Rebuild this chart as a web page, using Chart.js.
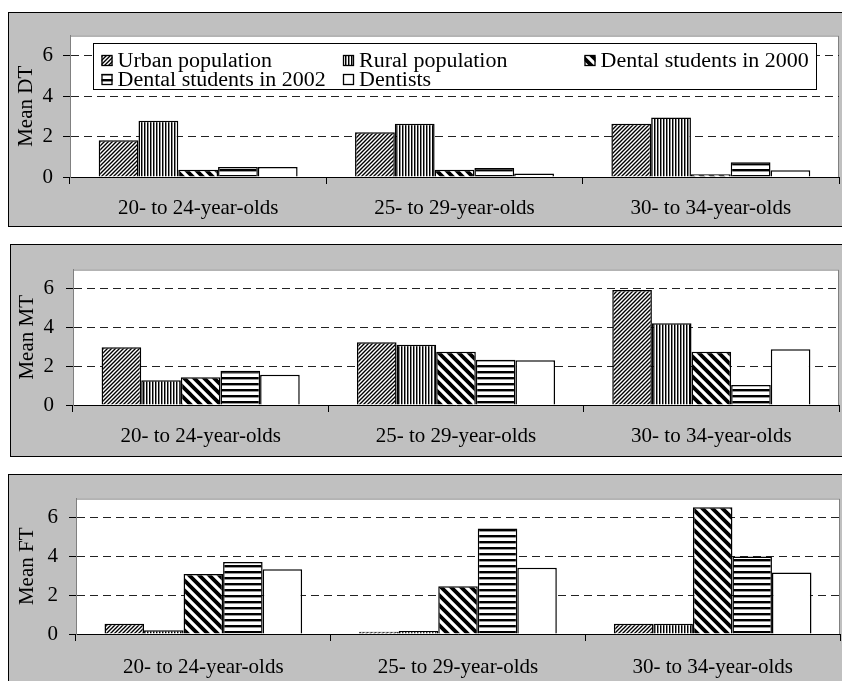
<!DOCTYPE html>
<html>
<head>
<meta charset="utf-8">
<script src="https://cdn.jsdelivr.net/npm/chart.js@4/dist/chart.umd.min.js"></script>
<style>
  body { margin: 0; background: #fff; overflow: hidden; width: 842px; height: 681px; }
  .panel { position: absolute; background: #c0c0c0; border: 1px solid #000; }
  .panel canvas { display: block; }
</style>
</head>
<body>
<div class="panel" style="left:8px; top:12px; width:838px; height:213px;"><canvas id="chartDT" width="838" height="213"></canvas></div>
<div class="panel" style="left:10px; top:244px; width:836px; height:211px;"><canvas id="chartMT" width="836" height="211"></canvas></div>
<div class="panel" style="left:8px; top:474px; width:838px; height:215px;"><canvas id="chartFT" width="838" height="215"></canvas></div>
<script>
// Data
const categories = ['20- to 24-year-olds', '25- to 29-year-olds', '30- to 34-year-olds'];
const seriesNames = ['Urban population', 'Rural population', 'Dental students in 2000', 'Dental students in 2002', 'Dentists'];
const yTicks = [0, 2, 4, 6];
const yMax = 7;

// Mean DT
const dtUrban = [1.82, 2.22, 2.63];
const dtRural = [2.79, 2.63, 2.95];
const dtStudents2000 = [0.36, 0.36, 0.13];
const dtStudents2002 = [0.49, 0.44, 0.73];
const dtDentists = [0.49, 0.17, 0.33];

// Mean MT
const mtUrban = [2.99, 3.24, 5.94];
const mtRural = [1.28, 3.12, 4.22];
const mtStudents2000 = [1.44, 2.75, 2.75];
const mtStudents2002 = [1.77, 2.34, 1.03];
const mtDentists = [1.57, 2.31, 2.88];

// Mean FT
const ftUrban = [0.53, 0.12, 0.53];
const ftRural = [0.2, 0.15, 0.53];
const ftStudents2000 = [3.1, 2.47, 6.55];
const ftStudents2002 = [3.72, 5.46, 4.01];
const ftDentists = [3.35, 3.42, 3.18];

Chart.defaults.font.family = "'Liberation Serif', 'Times New Roman', serif";
Chart.defaults.font.size = 21;
Chart.defaults.color = '#000';

// Fill patterns (black and white hatching)
function makeTile(w, h, draw) {
    const c = document.createElement('canvas');
    c.width = w; c.height = h;
    const g = c.getContext('2d');
    g.fillStyle = '#fff';
    g.fillRect(0, 0, w, h);
    draw(g);
    return c;
}

function buildPatterns(ctx) {
    // "/" fine hatching
    const urban = makeTile(4, 4, g => {
        g.strokeStyle = '#000'; g.lineWidth = 1.4;
        g.beginPath();
        [-4, 0, 4].forEach(x0 => { g.moveTo(x0 - 2, 6); g.lineTo(x0 + 6, -2); });
        g.stroke();
    });
    // vertical lines
    const rural = makeTile(3, 1, g => {
        g.fillStyle = '#000'; g.fillRect(0, 0, 1, 1);
        g.fillStyle = '#888'; g.fillRect(1, 0, 1, 1);
    });
    // wide "\" stripes
    const stud2000 = makeTile(10, 10, g => {
        g.strokeStyle = '#000'; g.lineWidth = 3.8;
        g.beginPath();
        [-10, 0, 10].forEach(x0 => { g.moveTo(x0 - 3, -3); g.lineTo(x0 + 13, 13); });
        g.stroke();
    });
    // horizontal stripes
    const stud2002 = makeTile(1, 6, g => {
        g.fillStyle = '#000'; g.fillRect(0, 0, 1, 2);
        g.fillStyle = '#999'; g.fillRect(0, 2, 1, 1);
    });
    return [
        ctx.createPattern(urban, 'repeat'),
        ctx.createPattern(rural, 'repeat'),
        ctx.createPattern(stud2000, 'repeat'),
        ctx.createPattern(stud2002, 'repeat'),
        '#ffffff'
    ];
}

// White plot area with a grey frame
const plotAreaPlugin = {
    id: 'plotArea',
    beforeDraw(chart) {
        const {ctx, chartArea: a} = chart;
        ctx.save();
        ctx.fillStyle = '#fff';
        ctx.fillRect(a.left, a.top, a.right - a.left, a.bottom - a.top);
        ctx.strokeStyle = '#808080';
        ctx.lineWidth = 1;
        ctx.strokeRect(a.left + 0.5, a.top + 0.5, a.right - a.left - 1, a.bottom - a.top);
        ctx.restore();
    }
};

// Boxed legend drawn inside the first plot
const boxLegendPlugin = {
    id: 'boxLegend',
    afterDraw(chart, args, opts) {
        if (!opts.show) return;
        const ctx = chart.ctx;
        const pats = chart.data.datasets.map(d => d.backgroundColor);
        ctx.save();
        ctx.fillStyle = '#fff';
        ctx.fillRect(opts.box[0], opts.box[1], opts.box[2], opts.box[3]);
        ctx.strokeStyle = '#000';
        ctx.lineWidth = 1;
        ctx.strokeRect(opts.box[0] + 0.5, opts.box[1] + 0.5, opts.box[2], opts.box[3]);
        seriesNames.forEach((name, i) => {
            const col = i % 3, row = Math.floor(i / 3);
            const x = opts.cols[col], base = opts.rows[row];
            const s = opts.swatch;
            ctx.fillStyle = pats[i];
            ctx.fillRect(x, base - s - 1, s, s);
            ctx.strokeStyle = '#000';
            ctx.lineWidth = 1.3;
            ctx.strokeRect(x + 0.5, base - s - 0.5, s - 1, s - 1);
            // text is slightly wider than tall in the figure
            ctx.save();
            ctx.translate(x + opts.textGap, base);
            ctx.scale(1.1, 1);
            ctx.font = "20px 'Liberation Serif', serif";
            ctx.textBaseline = 'alphabetic';
            ctx.textAlign = 'left';
            ctx.fillStyle = '#000';
            ctx.fillText(name, 0, 0);
            ctx.restore();
        });
        ctx.restore();
    }
};

function makeChart(id, values, title, L, legendOpts) {
    const ctx = document.getElementById(id).getContext('2d');
    const patterns = buildPatterns(ctx);
    const datasets = seriesNames.map((name, i) => ({
        label: name,
        data: values[i],
        backgroundColor: patterns[i],
        borderColor: '#000',
        borderWidth: 1.5,
        barPercentage: 1,
        categoryPercentage: 0.776
    }));

    return new Chart(ctx, {
        type: 'bar',
        data: { labels: categories, datasets: datasets },
        plugins: [plotAreaPlugin, boxLegendPlugin],
        options: {
            responsive: false,
            animation: false,
            layout: { padding: { left: 0, top: L.top, right: L.right, bottom: 0 } },
            plugins: {
                legend: { display: false },
                tooltip: { enabled: false },
                boxLegend: legendOpts || { show: false }
            },
            scales: {
                x: {
                    afterFit: s => { s.height = L.xHeight; },
                    ticks: { padding: L.xPad, maxRotation: 0, autoSkip: false, color: '#000' },
                    grid: { offset: true, drawOnChartArea: false, tickLength: 7, color: '#000', tickColor: '#000' },
                    border: { color: '#000', width: 1 }
                },
                y: {
                    min: 0,
                    max: yMax,
                    afterBuildTicks: s => { s.ticks = yTicks.map(v => ({ value: v })); },
                    afterFit: s => { s.width = L.yWidth; },
                    ticks: { padding: L.yPad, color: '#000' },
                    grid: {
                        color: c => (c.tick && c.tick.value === 0) ? 'rgba(0,0,0,0)' : '#222',
                        tickColor: '#000',
                        tickLength: 7,
                        tickBorderDash: []
                    },
                    border: { color: '#808080', dash: [8, 5] },
                    title: { display: true, text: title, color: '#000', padding: { top: L.titlePad, bottom: 0 } }
                }
            }
        }
    });
}

makeChart('chartDT',
    [dtUrban, dtRural, dtStudents2000, dtStudents2002, dtDentists],
    'Mean DT',
    { top: 20, right: 8, yWidth: 61, xHeight: 49, yPad: 10, xPad: 12, titlePad: 5 },
    { show: true, box: [84, 30, 723, 46], cols: [92.5, 334, 575.5], rows: [54, 73], swatch: 11, textGap: 16 });

makeChart('chartMT',
    [mtUrban, mtRural, mtStudents2000, mtStudents2002, mtDentists],
    'Mean MT',
    { top: 18, right: 8, yWidth: 62, xHeight: 51, yPad: 12, xPad: 12, titlePad: 4 });

makeChart('chartFT',
    [ftUrban, ftRural, ftStudents2000, ftStudents2002, ftDentists],
    'Mean FT',
    { top: 18, right: 7, yWidth: 67, xHeight: 56, yPad: 11, xPad: 14, titlePad: 5.5 });
</script>
</body>
</html>
